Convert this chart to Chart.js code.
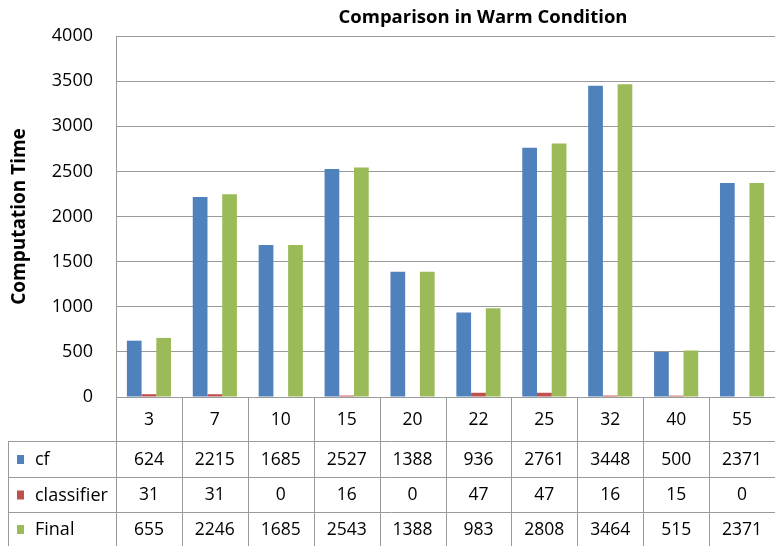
<!DOCTYPE html>
<html>
<head>
<meta charset="utf-8">
<script src="https://cdn.jsdelivr.net/npm/chart.js@4"></script>
<style>
  html, body { margin: 0; padding: 0; background: #fff; }
  #wrap { width: 775px; height: 546px; position: relative; }
</style>
</head>
<body>
<div id="wrap"><canvas id="chart"></canvas></div>
<script>
const categories = ['3', '7', '10', '15', '20', '22', '25', '32', '40', '55'];
const cf = [624, 2215, 1685, 2527, 1388, 936, 2761, 3448, 500, 2371];
const classifier = [31, 31, 0, 16, 0, 47, 47, 16, 15, 0];
const final = [655, 2246, 1685, 2543, 1388, 983, 2808, 3464, 515, 2371];
const yTicks = [0, 500, 1000, 1500, 2000, 2500, 3000, 3500, 4000];

const FONT = "'Open Sans', 'Noto Sans', sans-serif";
const GRID = '#9a9a9a';

const series = [
  { label: 'cf', data: cf, color: '#4F81BD' },
  { label: 'classifier', data: classifier, color: '#C0504D' },
  { label: 'Final', data: final, color: '#9BBB59' }
];

// draws the title and the data table under the plot
const tablePlugin = {
  id: 'dataTable',
  afterDraw(chart) {
    const ctx = chart.ctx;
    const area = chart.chartArea;
    const xs = chart.scales.x;
    const half = (xs.getPixelForValue(1) - xs.getPixelForValue(0)) / 2;
    const tableLeft = 8;
    const rowY = [area.bottom, 441, 477, 512, 546];

    ctx.save();
    ctx.fillStyle = '#000';
    ctx.font = 'bold 18.5px ' + FONT;
    ctx.textAlign = 'center';
    ctx.textBaseline = 'middle';
    ctx.fillText('Comparison in Warm Condition', 483, 18);

    ctx.strokeStyle = GRID;
    ctx.lineWidth = 1;
    ctx.beginPath();
    // vertical lines
    for (let i = 0; i <= categories.length; i++) {
      const x = Math.round(xs.getPixelForValue(i) - half) + 0.5;
      ctx.moveTo(x, area.bottom);
      ctx.lineTo(x, 546);
    }
    ctx.moveTo(tableLeft + 0.5, rowY[1]);
    ctx.lineTo(tableLeft + 0.5, 546);
    // horizontal lines
    for (let r = 1; r < 4; r++) {
      ctx.moveTo(tableLeft, rowY[r] + 0.5);
      ctx.lineTo(area.right, rowY[r] + 0.5);
    }
    ctx.stroke();

    ctx.font = '17.5px ' + FONT;
    ctx.fillStyle = '#000';
    categories.forEach((c, i) => {
      ctx.fillText(c, xs.getPixelForValue(i), (rowY[0] + rowY[1]) / 2 + 1);
    });
    series.forEach((s, r) => {
      const cy = (rowY[r + 1] + rowY[r + 2]) / 2 + 1;
      ctx.fillStyle = s.color;
      ctx.fillRect(17, cy - 5, 7, 9);
      ctx.fillStyle = '#000';
      ctx.textAlign = 'left';
      ctx.font = '18px ' + FONT;
      ctx.fillText(s.label, 35, cy);
      ctx.textAlign = 'center';
      ctx.font = '17.5px ' + FONT;
      s.data.forEach((v, i) => {
        ctx.fillText(String(v), xs.getPixelForValue(i), cy);
      });
    });
    ctx.restore();
  }
};

new Chart(document.getElementById('chart'), {
  type: 'bar',
  data: {
    labels: categories,
    datasets: series.map(s => ({
      label: s.label,
      data: s.data,
      backgroundColor: s.color,
      borderColor: s.color,
      borderWidth: 0,
      categoryPercentage: 0.67,
      barPercentage: 1.0
    }))
  },
  options: {
    responsive: true,
    maintainAspectRatio: false,
    animation: false,
    layout: { padding: { top: 36, bottom: 149, left: 0, right: 0 } },
    plugins: {
      legend: { display: false },
      title: { display: false },
      tooltip: { enabled: false }
    },
    scales: {
      x: {
        display: false,
        offset: true
      },
      y: {
        min: 0,
        max: 4000,
        afterFit: (axis) => { axis.width = 116; },
        afterBuildTicks: (axis) => { axis.ticks = yTicks.map(v => ({ value: v })); },
        ticks: {
          color: '#000',
          padding: 23,
          font: { family: FONT, size: 18 },
          callback: (val) => String(val)
        },
        grid: { color: GRID, drawTicks: false, lineWidth: 1 },
        border: { color: GRID },
        title: {
          display: true,
          text: 'Computation Time',
          color: '#000',
          font: { family: FONT, size: 19, weight: 'bold' },
          padding: { top: 8, bottom: 0 }
        }
      }
    }
  },
  plugins: [tablePlugin]
});
</script>
</body>
</html>
